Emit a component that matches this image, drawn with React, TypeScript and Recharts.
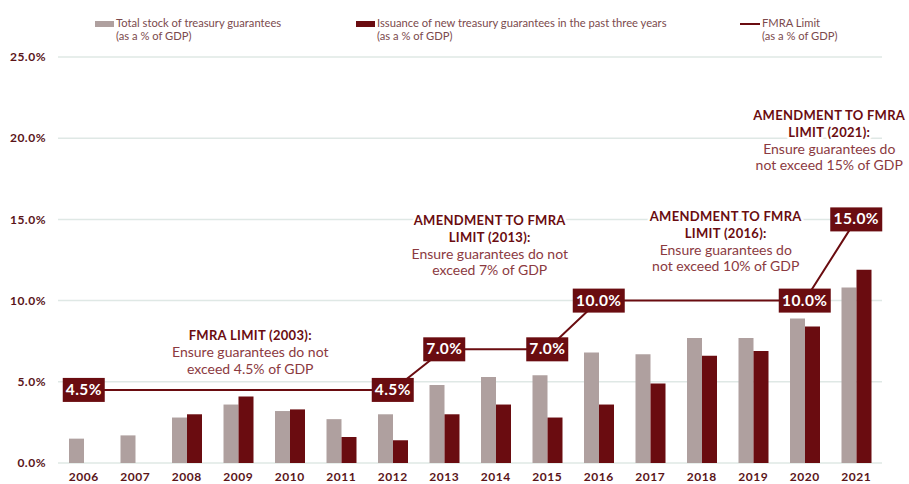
import React from "react";
import { ComposedChart, Bar, Line, XAxis, YAxis, CartesianGrid, LabelList, ReferenceDot } from "recharts";

const years = ["2006", "2007", "2008", "2009", "2010", "2011", "2012", "2013", "2014", "2015", "2016", "2017", "2018", "2019", "2020", "2021"];
const totalStock = [1.5, 1.7, 2.8, 3.6, 3.2, 2.7, 3.0, 4.8, 5.3, 5.4, 6.8, 6.7, 7.7, 7.7, 8.9, 10.8];
const newIssuance = [null, null, 3.0, 4.1, 3.3, 1.6, 1.4, 3.0, 3.6, 2.8, 3.6, 4.9, 6.6, 6.9, 8.4, 11.9];
const fmraLimit = [4.5, 4.5, 4.5, 4.5, 4.5, 4.5, 4.5, 7.0, 7.0, 7.0, 10.0, 10.0, 10.0, 10.0, 10.0, 15.0];
const limitLabelYears = ["2006", "2012", "2013", "2015", "2016", "2020", "2021"];
const yTicks = [0, 5, 10, 15, 20, 25];

const annotations = [
  { year: "2009", value: 7.76, dx: 12, title: ["FMRA LIMIT (2003):"], body: ["Ensure guarantees do not", "exceed 4.5% of GDP"] },
  { year: "2014", value: 14.85, dx: -6, title: ["AMENDMENT TO FMRA", "LIMIT (2013):"], body: ["Ensure guarantees do not", "exceed 7% of GDP"] },
  { year: "2018", value: 15.1, dx: 24, title: ["AMENDMENT TO FMRA", "LIMIT (2016):"], body: ["Ensure guarantees do", "not exceed 10% of GDP"] },
  { year: "2021", value: 21.3, dx: -27, title: ["AMENDMENT TO FMRA", "LIMIT (2021):"], body: ["Ensure guarantees do", "not exceed 15% of GDP"] },
];

const data = years.map((year, i) => ({
  year,
  total: totalStock[i],
  issuance: newIssuance[i],
  limit: fmraLimit[i],
}));

const GREY = "#afa09f";
const RED = "#6a0c10";
const TICK = "#5a1419";
const BODY = "#8b3a3f";
const FONT = "Lato, 'Open Sans', sans-serif";

function LimitLabel(props: any) {
  const { x, y, value, index } = props;
  if (!limitLabelYears.includes(years[index])) return null;
  const text = Number(value).toFixed(1) + "%";
  const w = text.length * 10 + 2;
  return (
    <g>
      <rect x={x - w / 2} y={y - 12} width={w} height={24} fill={RED} />
      <text x={x} y={y + 1} textAnchor="middle" dominantBaseline="middle" fill="#fff" fontSize={15.5} fontWeight={700} fontFamily={FONT} letterSpacing={0.4}>
        {text}
      </text>
    </g>
  );
}

function Annotation({ cx, cy, note }: any) {
  const lines = [
    ...note.title.map((t: string) => ({ t, bold: true })),
    ...note.body.map((t: string) => ({ t, bold: false })),
  ];
  return (
    <g>
      {lines.map((l: any, i: number) => (
        <text
          key={i}
          x={cx + note.dx}
          y={cy + i * 16.6}
          textAnchor="middle"
          dominantBaseline="middle"
          fontFamily={FONT}
          fontSize={l.bold ? 13 : 14}
          fontWeight={l.bold ? 700 : 400}
          letterSpacing={l.bold ? 0.3 : 0}
          fill={l.bold ? RED : BODY}
          stroke="#fff"
          strokeWidth={5}
          strokeLinejoin="round"
          paintOrder="stroke"
        >
          {l.t}
        </text>
      ))}
    </g>
  );
}

function LegendItem({ left, swatch, lines }: { left: number; swatch: React.ReactNode; lines: string[] }) {
  return (
    <div style={{ position: "absolute", left, top: 17, display: "flex", alignItems: "flex-start" }}>
      <div style={{ marginTop: 4, marginRight: 2 }}>{swatch}</div>
      <div style={{ fontFamily: FONT, fontSize: 11.2, lineHeight: "12.5px", color: "#7b4a4d" }}>
        {lines.map((l) => (
          <div key={l}>{l}</div>
        ))}
      </div>
    </div>
  );
}

export default function App() {
  return (
    <div style={{ position: "absolute", left: 0, top: 0, width: 909, height: 484, background: "#fff" }}>
      <ComposedChart width={909} height={484} data={data} margin={{ top: 57, right: 27, bottom: 0, left: 8 }} barGap={0}>
        <CartesianGrid vertical={false} stroke="#dfe8e5" strokeWidth={1.5} />
        <XAxis
          dataKey="year"
          interval={0}
          axisLine={false}
          tickLine={false}
          height={21}
          tickMargin={3}
          tick={{ fontSize: 12, fontWeight: 700, fill: TICK, fontFamily: FONT, letterSpacing: 0.5 }}
        />
        <YAxis
          domain={[0, 25]}
          ticks={yTicks}
          width={50}
          axisLine={false}
          tickLine={false}
          tickMargin={6}
          tickFormatter={(v: number) => v.toFixed(1) + "%"}
          tick={{ fontSize: 12, fontWeight: 700, fill: TICK, fontFamily: FONT, letterSpacing: 0.5 }}
        />
        <Bar dataKey="total" fill={GREY} barSize={15} isAnimationActive={false} />
        <Bar dataKey="issuance" fill={RED} barSize={15} isAnimationActive={false} />
        <Line dataKey="limit" type="linear" stroke={RED} strokeWidth={2} dot={false} activeDot={false} isAnimationActive={false}>
          <LabelList dataKey="limit" content={LimitLabel} />
        </Line>
        {annotations.map((a) => (
          <ReferenceDot
            key={a.year + a.value}
            x={a.year}
            y={a.value}
            r={0}
            shape={(p: any) => <Annotation cx={p.cx} cy={p.cy} note={a} />}
          />
        ))}
      </ComposedChart>
      <LegendItem
        left={95}
        swatch={<div style={{ width: 19, height: 6, background: GREY }} />}
        lines={["Total stock of treasury guarantees", "(as a % of GDP)"]}
      />
      <LegendItem
        left={356}
        swatch={<div style={{ width: 19, height: 6, background: RED }} />}
        lines={["Issuance of new treasury guarantees in the past three years", "(as a % of GDP)"]}
      />
      <LegendItem
        left={740}
        swatch={<div style={{ width: 20, height: 2, marginTop: 2, background: RED }} />}
        lines={["FMRA Limit", "(as a % of GDP)"]}
      />
    </div>
  );
}
